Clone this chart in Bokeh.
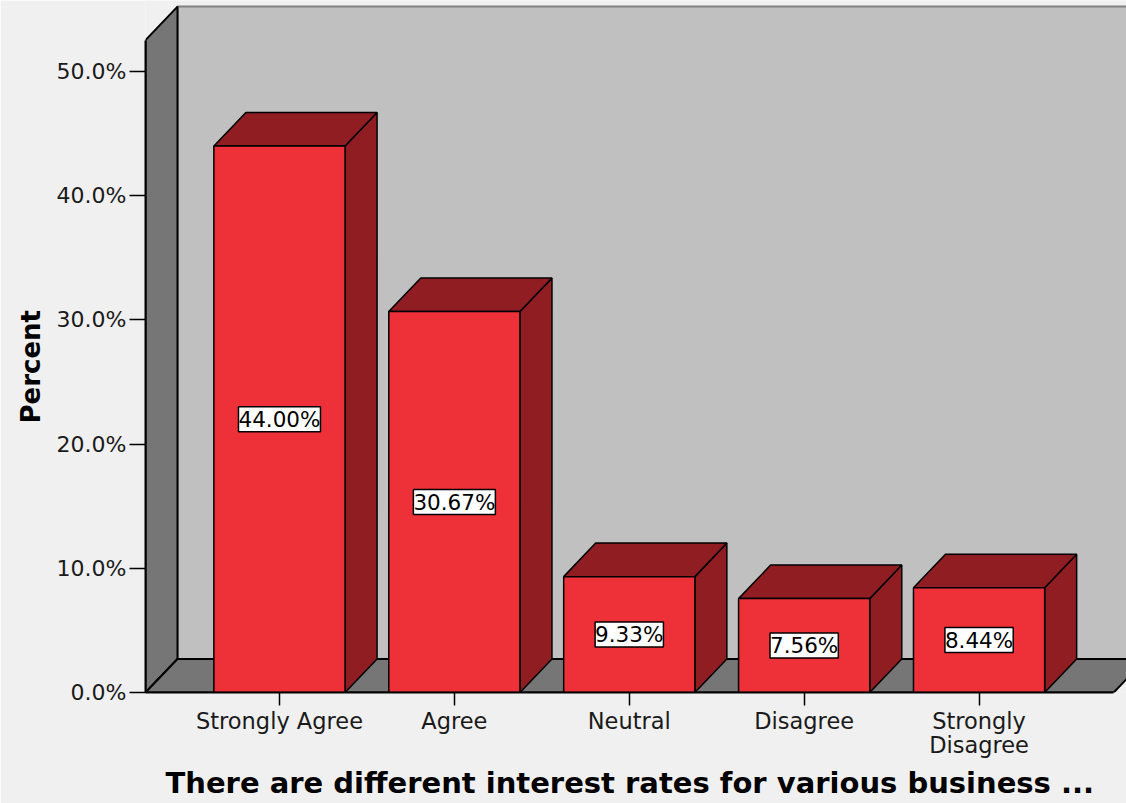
import numpy as np
from bokeh.plotting import figure
from bokeh.models import Range1d, FixedTicker, ColumnDataSource, LabelSet, Title
from bokeh.core.properties import value
from bokeh.embed import file_html
from bokeh.resources import INLINE

# ---------------- data ----------------
categories = ["Strongly Agree", "Agree", "Neutral", "Disagree", "Strongly Disagree"]
category_tick_labels = ["Strongly Agree", "Agree", "Neutral", "Disagree", "Strongly\nDisagree"]
percent_values = [44.00, 30.67, 9.33, 7.56, 8.44]
y_ticks = [0, 10, 20, 30, 40, 50]
y_tick_labels = ["0.0%", "10.0%", "20.0%", "30.0%", "40.0%", "50.0%"]
x_title = "There are different interest rates for various business ..."
y_title = "Percent"

# ---------------- layout / style ----------------
W, H = 1126, 803
X0, X1 = -0.766, 4.843          # x range (category units)
Y0, Y1 = 0.0, 55.72             # y range (percent)
WALL_TOP = 55.23
BAR_W = 0.75
DX, DY = 0.183, 2.7             # 3D depth offset
FLOOR_RIGHT = 4.77
FRONT = "#ee3039"
DARK = "#8f1d22"
WALL = "#c0c0c0"
SIDE = "#767676"
BG = "#f0f0f0"
FONT = "DejaVu Sans"

p = figure(width=W, height=H, x_range=Range1d(X0, X1), y_range=Range1d(Y0, Y1),
           output_backend="svg", toolbar_location=None,
           min_border_left=145, min_border_right=0, min_border_top=0, min_border_bottom=111)
p.background_fill_color = BG
p.border_fill_color = BG
p.outline_line_color = None
p.grid.visible = False

# back wall
far = X1 + 1.0
p.patch([X0 + DX, far, far, X0 + DX], [DY, DY, WALL_TOP, WALL_TOP],
        fill_color=WALL, line_color="#808080", line_width=2)
# left wall
p.patch([X0, X0 + DX, X0 + DX, X0], [0, DY, WALL_TOP, WALL_TOP - DY],
        fill_color=SIDE, line_color="black", line_width=2)
# floor
p.patch([X0, FLOOR_RIGHT, FLOOR_RIGHT + DX, X0 + DX], [0, 0, DY, DY],
        fill_color=SIDE, line_color="black", line_width=2)

# bars
xc = np.arange(len(categories), dtype=float)
v = np.array(percent_values)
left = xc - BAR_W / 2
right = xc + BAR_W / 2
top_xs = [[l, r, r + DX, l + DX] for l, r in zip(left, right)]
top_ys = [[t, t, t + DY, t + DY] for t in v]
side_xs = [[r, r + DX, r + DX, r] for r in right]
side_ys = [[0, DY, t + DY, t] for t in v]
p.patches(side_xs, side_ys, fill_color=DARK, line_color="black", line_width=1.5)
p.patches(top_xs, top_ys, fill_color=DARK, line_color="black", line_width=1.5)
p.quad(left=left, right=right, bottom=0, top=v, fill_color=FRONT, line_color="black", line_width=1.5)

src = ColumnDataSource(dict(x=xc, y=v / 2, text=[f"{val:.2f}%" for val in percent_values]))
labels = LabelSet(x="x", y="y", text="text", source=src, text_align="center", text_baseline="middle",
                  text_font=value(FONT), text_font_size="21.5px", text_color="black",
                  background_fill_color="white", border_line_color="black", border_line_width=1.5)
p.add_layout(labels)

# axes
yax = p.yaxis[0]
yax.ticker = FixedTicker(ticks=y_ticks)
yax.major_label_overrides = {t: s for t, s in zip(y_ticks, y_tick_labels)}
yax.minor_tick_line_color = None
yax.major_tick_in = 0
yax.major_tick_out = 16
yax.major_tick_line_color = "black"
yax.major_tick_line_width = 1.5
yax.axis_line_color = "black"
yax.axis_line_width = 2
yax.bounds = (0, WALL_TOP - DY)
yax.major_label_text_font = FONT
yax.major_label_text_font_size = "22px"
yax.major_label_text_color = "#1a1a1a"
yax.major_label_standoff = 3

xax = p.xaxis[0]
xax.ticker = FixedTicker(ticks=list(range(len(categories))))
xax.major_label_overrides = {i: s for i, s in enumerate(category_tick_labels)}
xax.minor_tick_line_color = None
xax.major_tick_in = 0
xax.major_tick_out = 13
xax.major_tick_line_color = "black"
xax.major_tick_line_width = 1.5
xax.axis_line_color = "black"
xax.axis_line_width = 2
xax.bounds = (X0, FLOOR_RIGHT)
xax.major_label_text_font = FONT
xax.major_label_text_font_size = "22.5px"
xax.major_label_text_color = "#1a1a1a"
xax.major_label_text_line_height = 0.95
xax.major_label_standoff = 2

# axis titles as side titles (allow fine offsets)
p.add_layout(Title(text=y_title, align="left", offset=269, standoff=15,
                   text_font=FONT, text_font_style="bold", text_font_size="26px",
                   text_color="black"), "left")
p.add_layout(Title(text=x_title, align="left", offset=20, standoff=5,
                   text_font=FONT, text_font_style="bold", text_font_size="29px",
                   text_line_height=1.0, text_color="black"), "below")

open("out.html", "w").write(file_html(p, INLINE))
